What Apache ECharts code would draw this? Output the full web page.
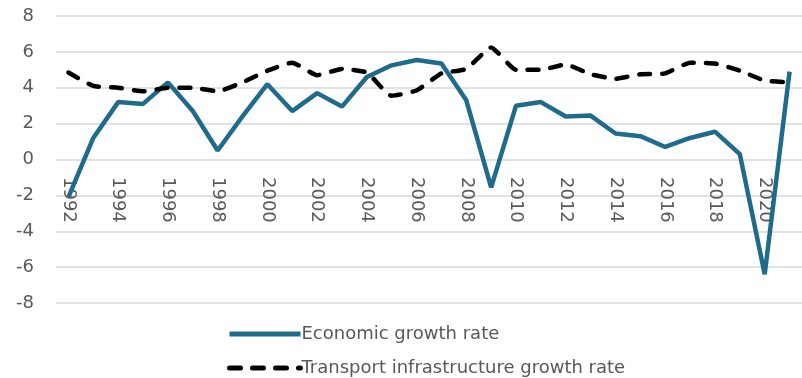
<!DOCTYPE html>
<html>
<head>
<meta charset="utf-8">
<script src="https://cdn.jsdelivr.net/npm/echarts@6/dist/echarts.min.js"></script>
<style>
  html, body { margin: 0; padding: 0; background: #fff; }
  #lineChart { width: 802px; height: 378px; }
</style>
</head>
<body>
<div id="lineChart"></div>
<script>
// years on the x axis
var years = ['1992','1993','1994','1995','1996','1997','1998','1999','2000','2001',
             '2002','2003','2004','2005','2006','2007','2008','2009','2010','2011',
             '2012','2013','2014','2015','2016','2017','2018','2019','2020','2021'];

// economic growth rate (%)
var economicGrowth = [-2.1, 1.2, 3.2, 3.1, 4.3, 2.7, 0.5, 2.4, 4.2, 2.7,
                      3.7, 2.95, 4.6, 5.25, 5.55, 5.35, 3.3, -1.55, 3.0, 3.2,
                      2.4, 2.45, 1.45, 1.3, 0.7, 1.2, 1.55, 0.3, -6.4, 4.9];

// transport infrastructure growth rate (%)
var transportGrowth = [4.85, 4.1, 4.0, 3.8, 4.0, 4.0, 3.8, 4.3, 4.95, 5.4,
                       4.7, 5.05, 4.85, 3.55, 3.85, 4.8, 5.05, 6.25, 5.0, 5.0,
                       5.3, 4.75, 4.5, 4.75, 4.8, 5.4, 5.35, 4.95, 4.4, 4.3];

var yTicks = { min: -8, max: 8, step: 2 };

var myChart = echarts.init(document.getElementById('lineChart'));

// 图例：每行一个
var legendBase = {
    orient: 'horizontal',
    left: 222,
    itemWidth: 71,
    itemHeight: 18,
    itemStyle: { opacity: 0 },
    lineStyle: { width: 5 },
    textStyle: { fontSize: 18, color: '#595959', padding: [0, 0, 0, -4] }
};

var option = {
    animation: false,
    textStyle: { fontFamily: 'DejaVu Sans' },
    grid: { left: 56, right: -10, top: 16, bottom: 75 },
    legend: [
        Object.assign({}, legendBase, { top: 320, data: ['Economic growth rate'] }),
        Object.assign({}, legendBase, { top: 354, data: ['Transport infrastructure growth rate'] })
    ],
    xAxis: {
        type: 'category',
        data: years,
        boundaryGap: true,
        // 轴放到 0 刻度线上
        offset: -144,
        axisLine: { show: false, onZero: false },
        axisTick: { show: false },
        axisLabel: {
            interval: 1,
            rotate: -90,
            margin: 18,
            fontSize: 18,
            color: '#595959'
        }
    },
    yAxis: {
        type: 'value',
        min: yTicks.min,
        max: yTicks.max,
        interval: yTicks.step,
        axisLine: { show: false },
        axisTick: { show: false },
        axisLabel: { fontSize: 18, color: '#595959', margin: 22 },
        splitLine: { lineStyle: { color: '#d9d9d9', width: 1.5 } }
    },
    series: [
        {
            name: 'Economic growth rate',
            type: 'line',
            data: economicGrowth,
            symbol: 'none',
            lineStyle: { color: '#1f6b8c', width: 4.5 },
            itemStyle: { color: '#1f6b8c' }
        },
        {
            name: 'Transport infrastructure growth rate',
            type: 'line',
            data: transportGrowth,
            symbol: 'none',
            smooth: 0.15,
            z: 3,
            lineStyle: { color: '#000', width: 4.5, type: [11, 12], cap: 'round' },
            itemStyle: { color: '#000' }
        }
    ]
};

myChart.setOption(option);
</script>
</body>
</html>
